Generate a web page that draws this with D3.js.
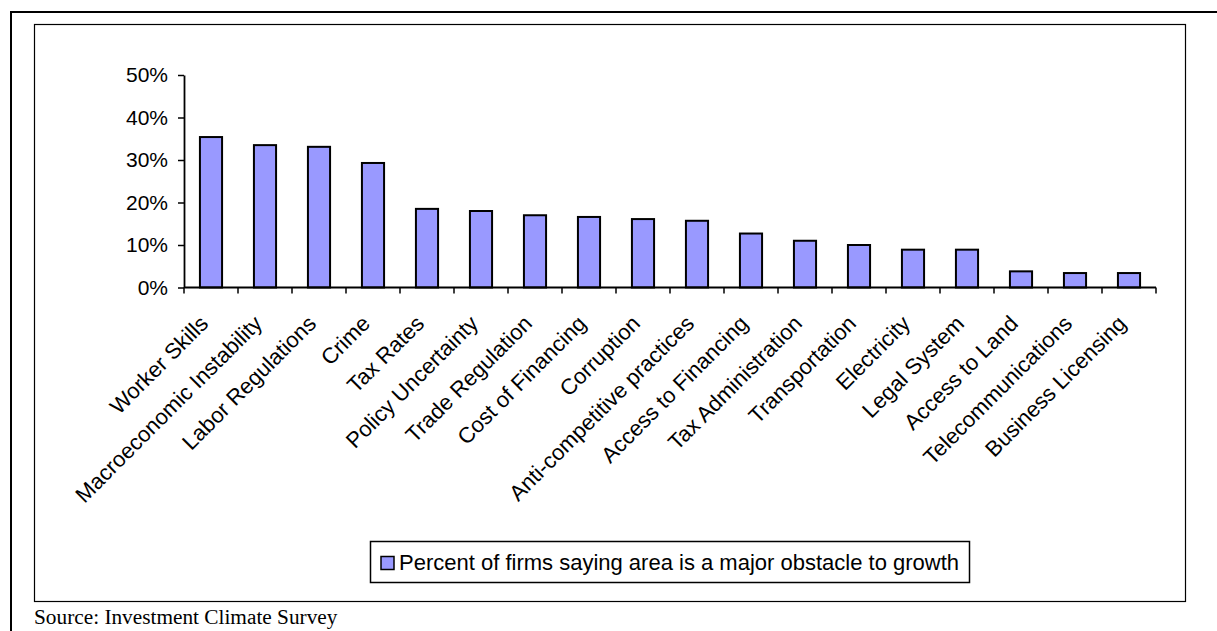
<!DOCTYPE html>
<html>
<head>
<meta charset="utf-8">
<script src="https://cdn.jsdelivr.net/npm/d3@7"></script>
<style>
  html, body { margin: 0; padding: 0; background: #fff; }
  svg { display: block; }
</style>
</head>
<body>
<svg id="chart" width="1217" height="631"></svg>
<script>
// Share of firms naming each area as a major obstacle to growth (percent)
const categories = [
  "Worker Skills", "Macroeconomic Instability", "Labor Regulations", "Crime",
  "Tax Rates", "Policy Uncertainty", "Trade Regulation", "Cost of Financing",
  "Corruption", "Anti-competitive practices", "Access to Financing",
  "Tax Administration", "Transportation", "Electricity", "Legal System",
  "Access to Land", "Telecommunications", "Business Licensing"
];
const values = [
  35.4, 33.5, 33.1, 29.3, 18.5, 18.0, 17.0, 16.6, 16.1, 15.7,
  12.7, 11.0, 10.0, 8.9, 8.9, 3.8, 3.4, 3.4
];
const yTicks = [0, 10, 20, 30, 40, 50];
const seriesName = "Percent of firms saying area is a major obstacle to growth";
const sourceNote = "Source: Investment Climate Survey";

const svg = d3.select("#chart");
const sans = "'Liberation Sans', Arial, sans-serif";
const serif = "'Liberation Serif', 'Times New Roman', serif";
const barFill = "#9999FF";

// page frame
svg.append("line").attr("x1", 11).attr("x2", 1217).attr("y1", 12).attr("y2", 12)
  .attr("stroke", "#000").attr("stroke-width", 2);
svg.append("line").attr("x1", 11).attr("x2", 11).attr("y1", 11).attr("y2", 631)
  .attr("stroke", "#000").attr("stroke-width", 2);

// chart area box
svg.append("rect").attr("x", 34.5).attr("y", 24.5).attr("width", 1151).attr("height", 577)
  .attr("fill", "none").attr("stroke", "#000").attr("stroke-width", 1.2);

const plot = { left: 184, right: 1156, top: 75, bottom: 287.5 };

const x = d3.scaleBand().domain(categories).range([plot.left, plot.right]).padding(0);
const xBar = d3.scaleBand().domain(categories).range([plot.left, plot.right])
  .paddingInner(0.59).paddingOuter(0.295);
const y = d3.scaleLinear().domain([0, 50]).range([plot.bottom, plot.top]);

// bars
svg.append("g").selectAll("rect")
  .data(categories.map((c, i) => ({ c, v: values[i] })))
  .join("rect")
  .attr("x", d => xBar(d.c))
  .attr("y", d => y(d.v))
  .attr("width", xBar.bandwidth())
  .attr("height", d => y(0) - y(d.v))
  .attr("fill", barFill)
  .attr("stroke", "#000")
  .attr("stroke-width", 2);

// y axis
const yAxis = d3.axisLeft(y).tickValues(yTicks).tickFormat(d => d + "%")
  .tickSizeInner(6).tickSizeOuter(0).tickPadding(10);
const gy = svg.append("g").attr("transform", `translate(${plot.left},0)`).call(yAxis);
gy.select(".domain").attr("stroke", "#000").attr("stroke-width", 1.8);
gy.selectAll(".tick line").attr("stroke", "#000").attr("stroke-width", 1.5);
gy.selectAll(".tick text").attr("font-family", sans).attr("font-size", 21).attr("fill", "#000");

// x axis: ticks at category boundaries
const xAxisG = svg.append("g");
xAxisG.append("line")
  .attr("x1", plot.left).attr("x2", plot.right)
  .attr("y1", y(0)).attr("y2", y(0))
  .attr("stroke", "#000").attr("stroke-width", 1.8);
const boundaries = categories.map(c => x(c)).concat([x(categories[categories.length - 1]) + x.bandwidth()]);
xAxisG.selectAll("line.tick")
  .data(boundaries)
  .join("line")
  .attr("class", "tick")
  .attr("x1", d => d).attr("x2", d => d)
  .attr("y1", y(0)).attr("y2", y(0) + 6)
  .attr("stroke", "#000").attr("stroke-width", 1.5);

// category labels rotated 45 degrees
xAxisG.selectAll("text")
  .data(categories)
  .join("text")
  .attr("transform", d => `translate(${x(d) + x.bandwidth() / 2 - 7},${y(0) + 32}) rotate(-45)`)
  .attr("text-anchor", "end")
  .attr("dy", "0.35em")
  .attr("font-family", sans)
  .attr("font-size", 22)
  .attr("fill", "#000")
  .text(d => d);

// legend
const legend = svg.append("g");
legend.append("rect").attr("x", 370.5).attr("y", 541.5).attr("width", 599).attr("height", 41)
  .attr("fill", "#fff").attr("stroke", "#000").attr("stroke-width", 1.5);
legend.append("rect").attr("x", 381).attr("y", 556.5).attr("width", 13).attr("height", 13)
  .attr("fill", barFill).attr("stroke", "#000").attr("stroke-width", 1.5);
legend.append("text").attr("x", 399).attr("y", 569.5)
  .attr("font-family", sans).attr("font-size", 22).attr("fill", "#000")
  .text(seriesName);

// source note
svg.append("text").attr("x", 34).attr("y", 624)
  .attr("font-family", serif).attr("font-size", 21.3).attr("fill", "#000")
  .text(sourceNote);
</script>
</body>
</html>
